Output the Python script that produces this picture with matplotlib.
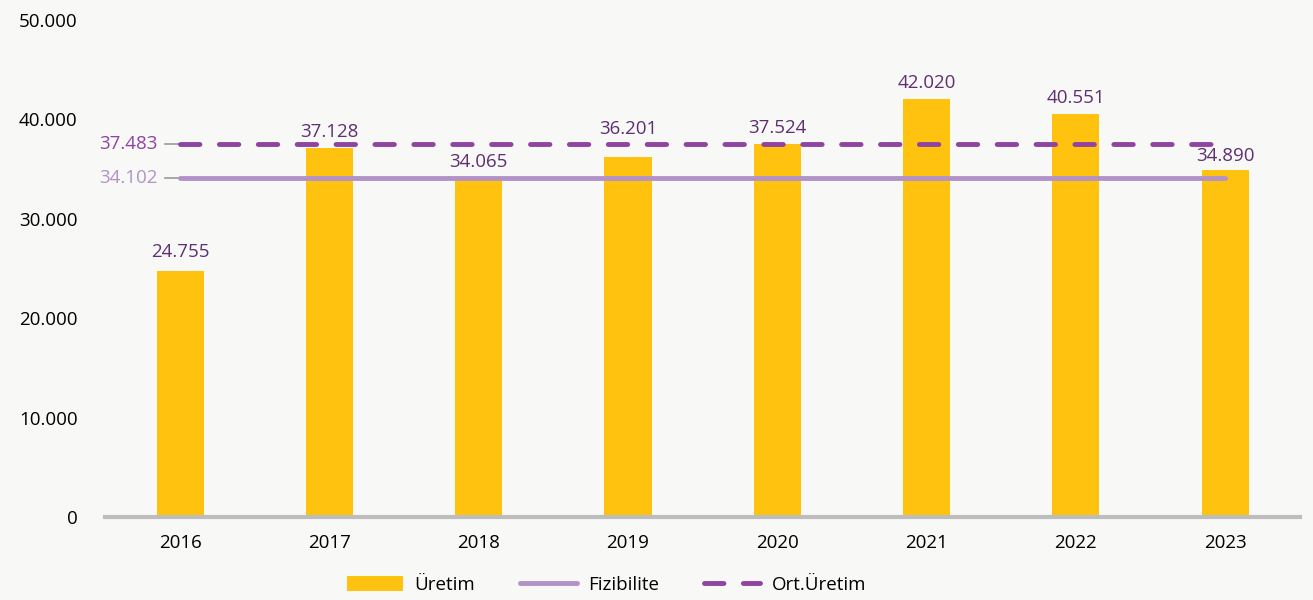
import matplotlib.pyplot as plt
from matplotlib.lines import Line2D
from matplotlib.patches import Patch
import numpy as np

plt.rcParams["font.family"] = ["Open Sans", "DejaVu Sans"]

years = ["2016", "2017", "2018", "2019", "2020", "2021", "2022", "2023"]
uretim = [24755, 37128, 34065, 36201, 37524, 42020, 40551, 34890]
fizibilite = 34102
ort_uretim = 37483

BAR = "#FFC20E"
FIZ = "#B392C8"
ORT = "#8E44A0"
LABEL = "#5E2F73"
BG = "#F8F8F6"

# label offsets (points) above each bar; 2019 sits above the dashed line
label_dy = [7, 5, 5, 14, 5, 5, 5, 4]


def fmt(v):
    return f"{v:,.0f}".replace(",", ".")


fig = plt.figure(figsize=(13.13, 6), dpi=100, facecolor=BG)
ax = fig.add_axes([0.0803, 0.138, 0.9097, 0.829])
ax.set_facecolor(BG)

x = np.arange(len(years))
ax.bar(x, uretim, width=0.315, color=BAR, zorder=2)
for xi, v, dy in zip(x, uretim, label_dy):
    ax.annotate(fmt(v), (xi, v), textcoords="offset points", xytext=(0, dy),
                ha="center", va="bottom", fontsize=13.5, color=LABEL, zorder=6)

ax.plot([x[0], x[-1]], [fizibilite, fizibilite], color=FIZ, lw=3.5,
        solid_capstyle="round", zorder=3)
ax.plot([x[0], x[-1] - 0.05], [ort_uretim, ort_uretim], color=ORT, lw=3.5,
        dashes=(4, 4), dash_capstyle="round", zorder=3)

# labels of the two horizontal lines, on the left with a short leader
for val, col in [(ort_uretim, ORT), (fizibilite, FIZ)]:
    ax.plot([-0.1, x[0]], [val, val], color="#9a9a9a", lw=1.2, zorder=2, clip_on=False)
    ax.text(-0.15, val, fmt(val), ha="right", va="center", fontsize=13.5,
            color=col, clip_on=False)

ax.set_xlim(-0.5, 7.5)
ax.set_ylim(0, 50000)
ax.set_xticks(x)
ax.set_xticklabels(years, fontsize=13.5)
ax.set_yticks(range(0, 50001, 10000))
ax.set_yticklabels([fmt(v) for v in range(0, 50001, 10000)], fontsize=13.5)
ax.tick_params(axis="both", length=0)
ax.tick_params(axis="y", pad=20)
ax.tick_params(axis="x", pad=12)
for side in ["top", "right", "left"]:
    ax.spines[side].set_visible(False)
ax.spines["bottom"].set_color("#BDBDBD")
ax.spines["bottom"].set_linewidth(3)
ax.spines["bottom"].set_zorder(5)

handles = [
    Patch(facecolor=BAR, label="Üretim"),
    Line2D([], [], color=FIZ, lw=3.5, solid_capstyle="round", label="Fizibilite"),
    Line2D([], [], color=ORT, lw=3.5, dashes=(4, 4), dash_capstyle="round", label="Ort.Üretim"),
]
fig.legend(handles=handles, loc="center", bbox_to_anchor=(0.462, 0.025), ncol=3,
           frameon=False, fontsize=13.5, handlelength=3.0, handleheight=0.9,
           columnspacing=2.4, handletextpad=0.6)

fig.savefig("out.png", dpi=100, facecolor=BG)
